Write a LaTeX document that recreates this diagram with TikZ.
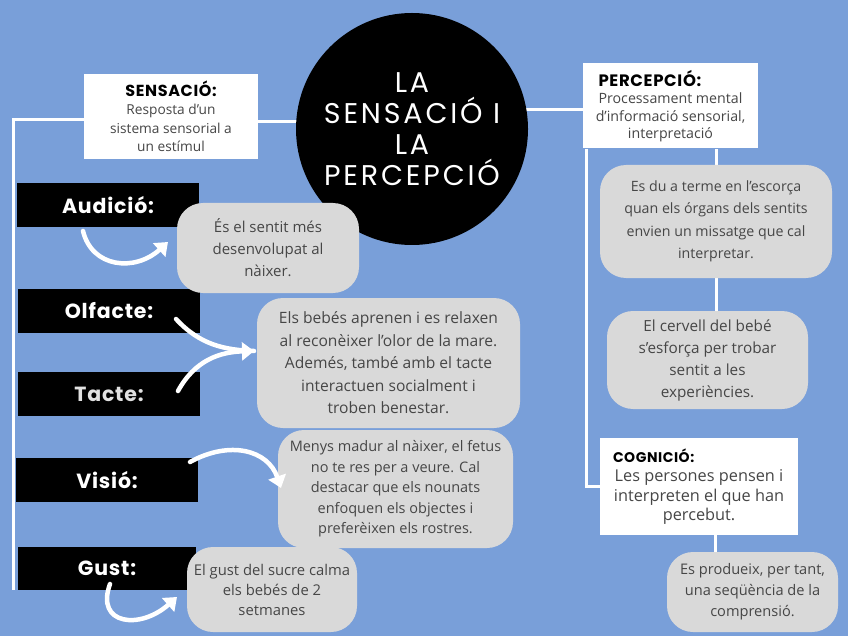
\documentclass[tikz,border=0pt]{standalone}
\usepackage{fontspec}
\setmainfont{Open Sans}
\newfontfamily\headfont{Poppins}[LetterSpace=4]
\newfontfamily\titlefont{Poppins}[LetterSpace=10]
\usetikzlibrary{arrows.meta}

\definecolor{mapblue}{RGB}{121,159,217}
\definecolor{bubble}{RGB}{217,217,217}
\definecolor{inktext}{RGB}{70,70,70}
\definecolor{paletext}{RGB}{225,225,225}

\pgfdeclarelayer{backdrop}
\pgfdeclarelayer{links}
\pgfsetlayers{backdrop,links,main}

\tikzset{
  sense/.style={fill=black, text=white, inner sep=0pt, minimum width=182pt, minimum height=44pt,
    font=\headfont\bfseries\fontsize{20.5}{22}\selectfont},
  note/.style={fill=bubble, text=inktext, rounded corners=26pt, align=center, inner sep=0pt},
  card/.style={fill=white, align=center, inner sep=0pt},
  link/.style={draw=white, line width=3pt},
  swoosh/.style={draw=white, line width=4.5pt, line cap=round, -{Triangle[width=18pt,length=12pt]}},
  swooshtail/.style={draw=white, line width=4.5pt, line cap=round}
}

\begin{document}
\begin{tikzpicture}[x=1pt,y=-1pt]
  \begin{pgfonlayer}{backdrop}
    \fill[mapblue] (0,0) rectangle (848,636);
  \end{pgfonlayer}

  % centre
  \node[circle, fill=black, minimum size=232pt, inner sep=0pt, text=white, align=center,
    font=\titlefont\fontsize{28.5}{31}\selectfont] (title) at (412,129) {LA\\SENSACIÓ I\\LA\\PERCEPCIÓ};

  % sensacio side
  \node[card, minimum width=174pt, minimum height=85pt, font=\fontsize{13.7}{18.5}\selectfont, text=inktext]
    (sens) at (171,116.5) {{\headfont\bfseries\fontsize{16}{18}\selectfont\color{black}SENSACIÓ:}\\Resposta d'un\\sistema sensorial a\\un estímul};

  \node[sense] (aud) at (108,205) {Audició:};
  \node[sense] (olf) at (109,311) {Olfacte:};
  \node[sense, text=paletext] (tac) at (109,394) {Tacte:};
  \node[sense] (vis) at (107,480) {Visió:};
  \node[sense, minimum width=178pt, minimum height=43pt] (gus) at (107,568.5) {Gust:};

  \node[note, minimum width=182pt, minimum height=90pt, font=\fontsize{15}{22}\selectfont]
    (audA) at (268,248) {És el sentit més\\desenvolupat al\\nàixer.};
  \node[note, minimum width=263pt, minimum height=130pt, font=\fontsize{15.6}{22.5}\selectfont]
    (olfA) at (388.5,363) {Els bebés aprenen i es relaxen\\al reconèixer l'olor de la mare.\\Ademés, també amb el tacte\\interactuen socialment i\\troben benestar.};
  \node[note, minimum width=235pt, minimum height=118pt, font=\fontsize{14.5}{20.5}\selectfont]
    (visA) at (395.5,489) {Menys madur al nàixer, el fetus\\no te res per a veure. Cal\\destacar que els nounats\\enfoquen els objectes i\\preferèixen els rostres.};
  \node[note, minimum width=170pt, minimum height=85pt, font=\fontsize{14.8}{20}\selectfont]
    (gusA) at (272,589.5) {El gust del sucre calma\\els bebés de 2\\setmanes};

  % percepcio side
  \node[card, minimum width=175pt, minimum height=85pt, font=\fontsize{14.2}{17.5}\selectfont, text=inktext]
    (perc) at (670.5,106) {\makebox[144pt][l]{\headfont\bfseries\fontsize{16.5}{19}\selectfont\color{black}PERCEPCIÓ:}\\Processament mental\\d'informació sensorial,\\interpretació};
  \node[note, minimum width=232pt, minimum height=113pt, font=\fontsize{14.2}{22.5}\selectfont]
    (percA) at (716,221.5) {Es du a terme en l'escorça\\quan els órgans dels sentits\\envien un missatge que cal\\interpretar.};
  \node[note, minimum width=201pt, minimum height=98pt, font=\fontsize{15.3}{22}\selectfont]
    (percB) at (707.5,360) {El cervell del bebé\\s'esforça per trobar\\sentit a les\\experiències.};
  \node[card, minimum width=198pt, minimum height=97pt, font=\fontsize{16.3}{19.5}\selectfont, text=inktext]
    (cog) at (699,486.5) {\makebox[178pt][l]{\hspace{3pt}\headfont\bfseries\fontsize{14}{17}\selectfont\color{black}COGNICIÓ:}\\Les persones pensen i\\interpreten el que han\\percebut.};
  \node[note, minimum width=171pt, minimum height=80pt, font=\fontsize{14.6}{21}\selectfont]
    (prod) at (752.5,592) {Es produeix, per tant,\\una seqüència de la\\comprensió.};

  \coordinate (trunkfoot) at (13,590);

  \begin{pgfonlayer}{links}
    \draw[link] ([yshift=-5pt]sens.east) -- ([yshift=-5pt]sens.east -| title.center);
    \draw[link] ([yshift=-3pt]sens.west) -| (trunkfoot);
    \draw[link] ([yshift=-4pt]perc.west) -- ([yshift=-4pt]perc.west -| title.center);
    \draw[link] (percA.north) -- (percA.north |- perc.south);
    \draw[link] (percA.south) -- (percA.south |- percB.north);
    \draw[link] ([xshift=4pt]perc.south west) |- (cog.west);
    \draw[link] ([xshift=16pt]cog.south) -- ([xshift=16pt]cog.south |- prod.north);
  \end{pgfonlayer}

  % white swooshes
  \coordinate (audTail) at (83,231);
  \coordinate (audTip) at (168,242);
  \coordinate (olfTail) at (176,319);
  \coordinate (tacTail) at (178,391);
  \coordinate (olfTip) at (254,351);
  \coordinate (visTail) at (190,462);
  \coordinate (visTip) at (281,488);
  \coordinate (gusTail) at (110,584);
  \coordinate (gusTip) at (177,597);

  \draw[swoosh] (audTail) .. controls (92,268) and (135,272) .. (audTip);
  \draw[swooshtail] (olfTail) .. controls (200,345) and (225,350) .. (olfTip);
  \draw[swoosh] (tacTail) .. controls (195,360) and (220,352) .. (olfTip);
  \draw[swoosh] (visTail) .. controls (230,440) and (268,450) .. (visTip);
  \draw[swoosh] (gusTail) .. controls (95,625) and (140,630) .. (gusTip);
\end{tikzpicture}
\end{document}
